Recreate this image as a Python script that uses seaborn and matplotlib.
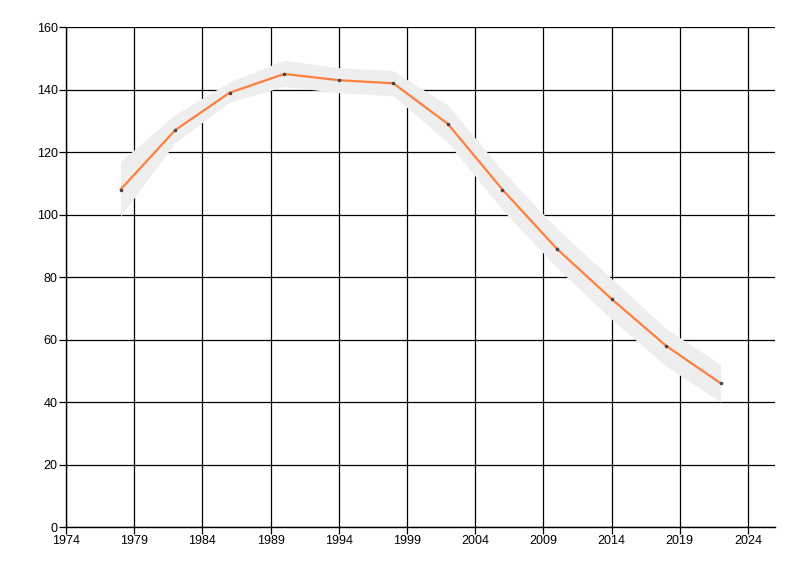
import matplotlib
matplotlib.use("Agg")
import matplotlib.pyplot as plt
import numpy as np
import pandas as pd
import seaborn as sns

years = [1978, 1982, 1986, 1990, 1994, 1998, 2002, 2006, 2010, 2014, 2018, 2022]
values = [108, 127, 139, 145, 143, 142, 129, 108, 89, 73, 58, 46]
band_low = [99.5, 123, 136, 141, 139, 138, 123, 101.5, 83, 66.5, 51.5, 40]
band_high = [117, 132, 142.5, 149.4, 147, 146, 135, 114, 95.5, 79.5, 63.5, 52]

x_ticks = [1974, 1979, 1984, 1989, 1994, 1999, 2004, 2009, 2014, 2019, 2024]
y_ticks = [0, 20, 40, 60, 80, 100, 120, 140, 160]

df = pd.DataFrame({"year": years, "value": values})

sns.set_style("white")
plt.rcParams['font.family'] = ['Liberation Sans', 'DejaVu Sans']

fig = plt.figure(figsize=(8, 5.76), dpi=100)
ax = fig.add_axes([0.0825, 0.085, 0.969 - 0.0825, 0.953 - 0.085])

ax.set_xlim(1974, 2026)
ax.set_ylim(0, 160)
ax.set_xticks(x_ticks)
ax.set_yticks(y_ticks)
ax.grid(True, color="black", linewidth=0.9)
ax.set_axisbelow(True)

ax.fill_between(years, band_low, band_high, color="#EEEEEE", linewidth=0, zorder=2)

sns.lineplot(data=df, x="year", y="value", ax=ax, color="#FF7F3F", linewidth=1.6,
             marker="o", markersize=1.8, markerfacecolor="#444444",
             markeredgecolor="#444444", zorder=3)

for s in ["top", "right"]:
    ax.spines[s].set_visible(False)
for s in ["left", "bottom"]:
    ax.spines[s].set_color("black")
    ax.spines[s].set_linewidth(1.0)

ax.tick_params(axis="both", direction="out", length=5, width=0.9, color="black",
               labelsize=9, labelcolor="black", pad=1,
               bottom=True, left=True)
ax.set_xlabel("")
ax.set_ylabel("")

fig.savefig("out.png", dpi=100)
